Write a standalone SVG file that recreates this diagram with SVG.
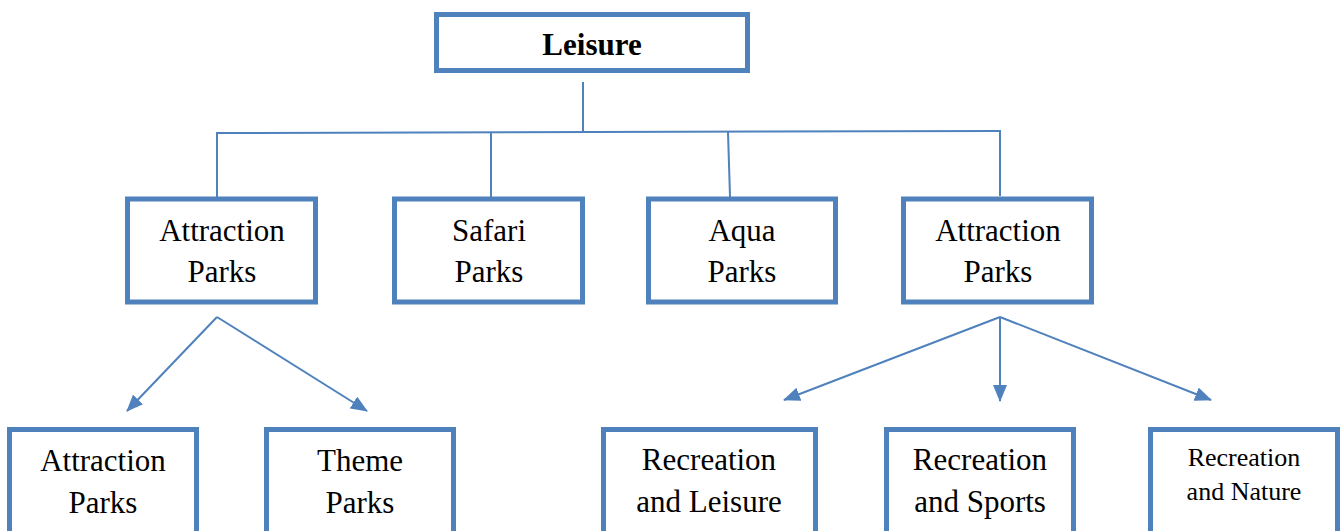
<svg xmlns="http://www.w3.org/2000/svg" width="1341" height="531" viewBox="0 0 1341 531">
<style>
.box{fill:#fff;stroke:#4F81BD;stroke-width:5}
.t{font-family:'Liberation Serif','DejaVu Serif',serif;font-size:31px;fill:#000;text-anchor:middle}
.b{font-weight:bold}
.s{font-size:26px}
.c{stroke:#4F81BD;stroke-width:2;fill:none}
</style>
<defs>
<marker id="ah" markerUnits="userSpaceOnUse" markerWidth="18" markerHeight="14" refX="16" refY="7" orient="auto">
<path d="M0,0 L17,7 L0,14 Z" fill="#4F81BD"/>
</marker>
</defs>
<g id="connectors">
<line class="c" x1="583" y1="82" x2="583" y2="132"/>
<line class="c" x1="216" y1="133" x2="1001" y2="131"/>
<line class="c" x1="217" y1="133" x2="217" y2="198"/>
<line class="c" x1="491" y1="132" x2="491" y2="198"/>
<line class="c" x1="728" y1="132" x2="730" y2="197"/>
<line class="c" x1="1000" y1="131" x2="1000" y2="196"/>
<line class="c" x1="217" y1="317" x2="127" y2="411" marker-end="url(#ah)"/>
<line class="c" x1="217" y1="317" x2="367" y2="411" marker-end="url(#ah)"/>
<line class="c" x1="1000" y1="317" x2="784" y2="400" marker-end="url(#ah)"/>
<line class="c" x1="1000" y1="317" x2="1000" y2="401" marker-end="url(#ah)"/>
<line class="c" x1="1000" y1="317" x2="1211" y2="400" marker-end="url(#ah)"/>
</g>
<g id="leisure">
<rect class="box" x="436.5" y="14.5" width="311" height="56"/>
<text class="t b" x="592" y="55" font-family="Liberation Serif">Leisure</text>
</g>
<g id="attraction1">
<rect class="box" x="127.5" y="199" width="188" height="103"/>
<text class="t" x="222" y="241" font-family="Liberation Serif">Attraction</text>
<text class="t" x="222" y="282" font-family="Liberation Serif">Parks</text>
</g>
<g id="safari">
<rect class="box" x="394.5" y="199" width="188" height="103"/>
<text class="t" x="489" y="241" font-family="Liberation Serif">Safari</text>
<text class="t" x="489" y="282" font-family="Liberation Serif">Parks</text>
</g>
<g id="aqua">
<rect class="box" x="648.5" y="199" width="187" height="103"/>
<text class="t" x="742" y="241" font-family="Liberation Serif">Aqua</text>
<text class="t" x="742" y="282" font-family="Liberation Serif">Parks</text>
</g>
<g id="attraction2">
<rect class="box" x="903.5" y="199" width="188" height="103"/>
<text class="t" x="998" y="241" font-family="Liberation Serif">Attraction</text>
<text class="t" x="998" y="282" font-family="Liberation Serif">Parks</text>
</g>
<g id="attraction3">
<rect class="box" x="9.5" y="429.5" width="187" height="130"/>
<text class="t" x="103" y="471" font-family="Liberation Serif">Attraction</text>
<text class="t" x="103" y="513" font-family="Liberation Serif">Parks</text>
</g>
<g id="theme">
<rect class="box" x="266.5" y="429.5" width="187" height="130"/>
<text class="t" x="360" y="471" font-family="Liberation Serif">Theme</text>
<text class="t" x="360" y="513" font-family="Liberation Serif">Parks</text>
</g>
<g id="rec-leisure">
<rect class="box" x="603.5" y="429.5" width="212" height="130"/>
<text class="t" x="709" y="470" font-family="Liberation Serif">Recreation</text>
<text class="t" x="709" y="512" font-family="Liberation Serif">and Leisure</text>
</g>
<g id="rec-sports">
<rect class="box" x="886.5" y="429.5" width="187" height="130"/>
<text class="t" x="980" y="470" font-family="Liberation Serif">Recreation</text>
<text class="t" x="980" y="512" font-family="Liberation Serif">and Sports</text>
</g>
<g id="rec-nature">
<rect class="box" x="1150.5" y="429.5" width="187" height="130"/>
<text class="t s" x="1244" y="466" font-family="Liberation Serif">Recreation</text>
<text class="t s" x="1244" y="500" font-family="Liberation Serif">and Nature</text>
</g>
</svg>
